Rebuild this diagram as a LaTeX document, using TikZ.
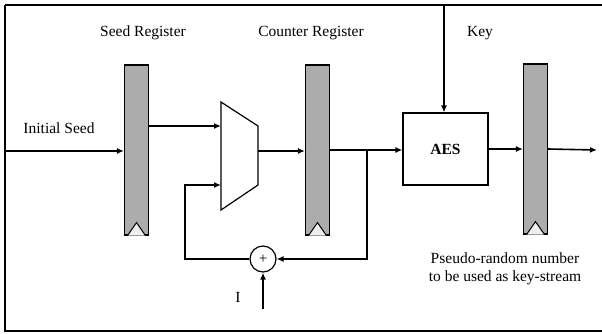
\documentclass[tikz,border=0pt]{standalone}
\usepackage{fontspec}
\setmainfont{Liberation Serif}
\definecolor{regfill}{RGB}{172,172,172}
\usetikzlibrary{arrows.meta,positioning,calc}
\tikzset{
  regbox/.style={draw,line width=1.2pt,fill=regfill,minimum width=24pt,minimum height=170pt,inner sep=0pt},
  conn/.style={line width=1.6pt,-{Latex[length=7pt,width=6pt]}},
  wire/.style={line width=1.6pt},
  lbl/.style={font=\fontsize{15.5}{18}\selectfont,inner sep=0pt,align=center}
}
\begin{document}
\begin{tikzpicture}[x=1pt,y=-1pt]
  \useasboundingbox (0,0) rectangle (602,333);
  \draw[line width=1.2pt] (5,5) -- (602,5) (5,5) -- (5,331) -- (602,331);
  % titles
  \node[lbl] (seedtxt) at (143,33) {Seed Register};
  \node[lbl] (cnttxt) at (311,33) {Counter Register};
  \node[lbl] (keytxt) at (480,33) {Key};
  \node[lbl] (inittxt) at (59,128) {Initial Seed};
  \node[lbl] (prntxt) at (505,269) {Pseudo-random number\\to be used as key-stream};
  % registers
  \node[regbox] (seed) at (136.5,150) {};
  \node[regbox] (cnt) at (317.5,150) {};
  \node[regbox] (outreg) at (535.5,149) {};
  \foreach \r in {seed,cnt,outreg}
    \draw[line width=1pt,fill=white!80!regfill] ([xshift=-9pt]\r.south) -- ([yshift=13pt]\r.south) -- ([xshift=9pt]\r.south);
  % mux
  \draw[line width=1.2pt] (221,102) -- (258,126) -- (258,185) -- (221,210) -- cycle;
  \coordinate (muxa) at (221,126);
  \coordinate (muxb) at (221,185);
  \coordinate (muxo) at (258,151);
  % AES
  \node[draw,line width=1.2pt,minimum width=85pt,minimum height=72pt,font=\fontsize{15.5}{18}\selectfont\bfseries] (aes) at (445.5,149) {AES};
  % adder
  \node[draw,circle,line width=1.2pt,minimum size=26pt,inner sep=0pt,font=\fontsize{15}{17}\selectfont] (add) at (263,259) {+};
  \node[lbl] (inc) at (238,297) {I};
  % connectors
  \coordinate (seedin) at (5,151);
  \coordinate (keyin) at (444,5);
  \coordinate (br) at (367,150);
  \coordinate (fb) at (185,259);
  \coordinate (incin) at (263,309);
  \coordinate (rout) at (597,150);
  \draw[conn] (seedin) -- (seed.west |- seedin);
  \draw[conn] (seed.east |- muxa) -- (muxa);
  \draw[conn] (muxo) -- (cnt.west |- muxo);
  \draw[conn] (cnt.east) -- (aes.west |- cnt.east);
  \draw[conn] (br) |- (add.east);
  \draw[conn] (add.west) -- (fb) |- (muxb);
  \draw[conn] (incin) -- (add.south);
  \draw[conn] (keyin) -- (keyin |- aes.north);
  \draw[conn] (aes.east) -- (outreg.west |- aes.east);
  \draw[conn] (outreg.east) -- (rout);
\end{tikzpicture}
\end{document}
